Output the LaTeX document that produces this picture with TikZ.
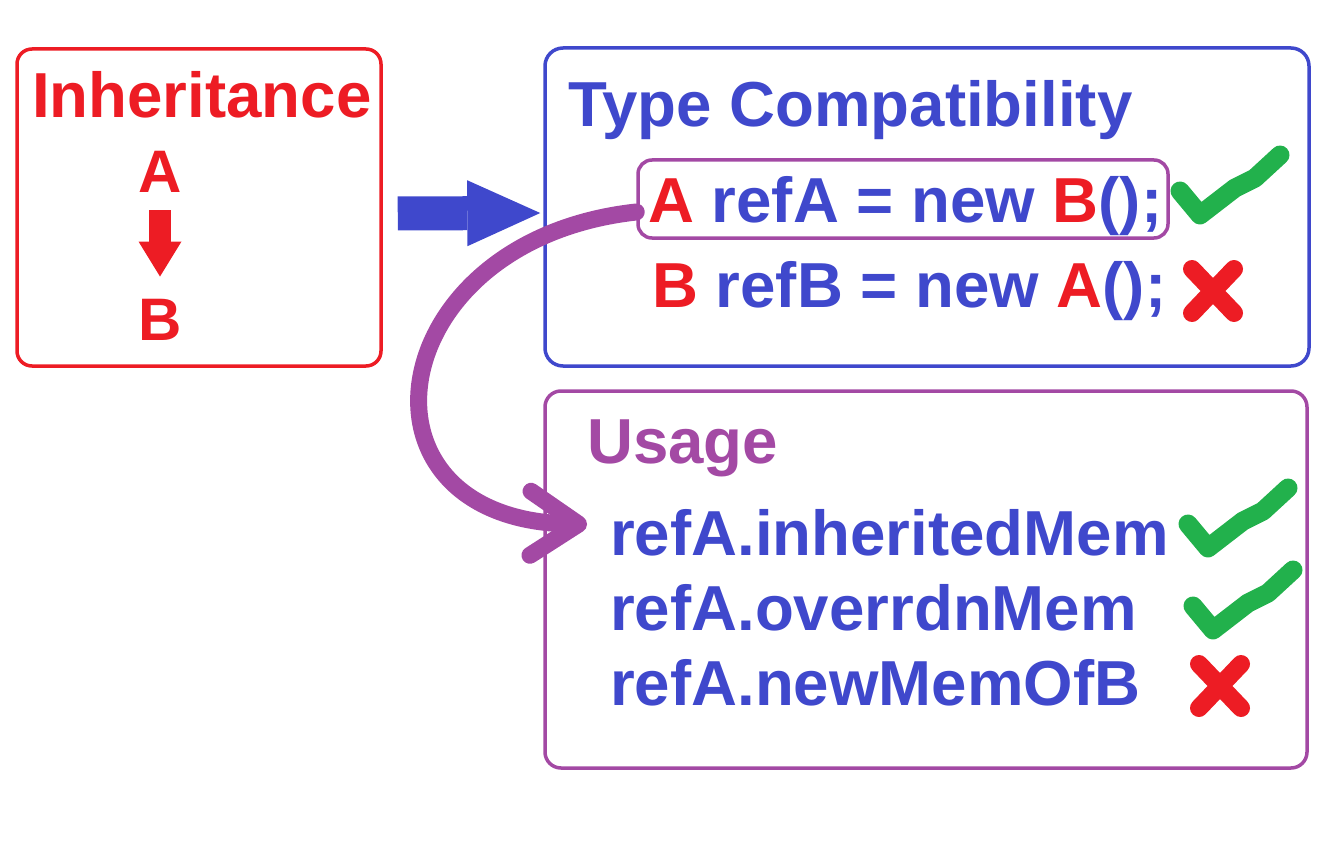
\documentclass[tikz,border=0pt]{standalone}
\usepackage{fontspec}
\setmainfont{Liberation Sans}
\usetikzlibrary{positioning,arrows.meta}
\definecolor{tcred}{HTML}{ED1C24}
\definecolor{tcblue}{HTML}{3F48CC}
\definecolor{tcpurple}{HTML}{A349A4}
\definecolor{tcgreen}{HTML}{22B14C}
\tikzset{
  panel/.style    ={draw, line width=3.5pt, rounded corners=15pt, inner sep=0pt},
  big/.style      ={font=\fontsize{63.6}{70}\selectfont\bfseries, inner sep=0pt,
                    anchor=base west},
  cls/.style      ={font=\fontsize{60}{66}\selectfont\bfseries, inner sep=0pt,
                    anchor=base, text=tcred},
  code/.style     ={big, text=tcblue},
  fatarrow/.style ={draw=tcblue, line width=34pt,
                    -{Triangle[length=73pt, width=66pt, line width=0pt]}},
  downarrow/.style={draw=tcred, line width=22pt,
                    -{Triangle[length=35pt, width=43pt, line width=0pt]}},
  link/.style     ={draw=tcpurple, line width=17pt, line cap=round,
                    -{Straight Barb[length=48pt, width=64pt, round]}},
  okmark/.pic     ={\draw[tcgreen, line width=19pt, line cap=round, line join=round]
                      (-20,-24) -- (0,0) -- (35,-27) -- (55,-37) -- (80,-60);},
  nomark/.pic     ={\draw[tcred, line width=18pt, line cap=round]
                      (-21,-22) -- (21,22) (21,-22) -- (-21,22);},
}

\begin{document}
\begin{tikzpicture}[x=1pt, y=-1pt]
  \useasboundingbox (0,0) rectangle (1344,856);

  % panels
  \node[panel, draw=tcred, minimum width=364pt, minimum height=317pt]
    (inh) at (199,207.5) {};
  \node[panel, draw=tcblue, rounded corners=18pt, minimum width=764pt,
    minimum height=318pt] (tc) at (927,207) {};
  \node[panel, draw=tcpurple, rounded corners=16pt, minimum width=762pt,
    minimum height=377pt] (use) at (926,579.5) {};
  \node[panel, draw=tcpurple, rounded corners=14pt, minimum width=530pt,
    minimum height=78pt] (pbox) at (903,199) {};

  % inheritance
  \node[big, text=tcred] (inhtitle) at (32,118) {Inheritance};
  \node[cls] (clsA) at (160,193) {A};
  \node[cls] (clsB) at (160,340) {B};
  \draw[downarrow, shorten <=17pt, shorten >=22pt] (clsA.south) -- (clsB.north);

  % type compatibility
  \node[big, text=tcblue] (tctitle) at (568,127) {Type Compatibility};
  \node[code] (ok1) at (648,222)
    {\textcolor{tcred}{A} refA = new \textcolor{tcred}{B}();};
  \node[code] (bad1) at (652,307)
    {\textcolor{tcred}{B} refB = new \textcolor{tcred}{A}();};
  \pic at (1200,215) {okmark};
  \pic at (1213,291) {nomark};

  % usage
  \node[big, text=tcpurple] (usetitle) at (587,463) {Usage};
  \node[code] (mem1) at (610,555) {refA.inheritedMem};
  \node[code] (mem2) at (610,630) {refA.overrdnMem};
  \node[code] (mem3) at (610,705) {refA.newMemOfB};
  \pic at (1208,548) {okmark};
  \pic at (1213,630) {okmark};
  \pic at (1220,686) {nomark};

  % connectors
  \draw[fatarrow, shorten <=15pt, shorten >=3pt]
    ([yshift=-6pt]inh.east) -- ([yshift=-6pt]tc.west);
  \draw[link] ([yshift=-13pt]pbox.west) .. controls (380,240) and (340,520)
    .. ([xshift=-23pt, yshift=8pt]mem1.west);
\end{tikzpicture}
\end{document}
